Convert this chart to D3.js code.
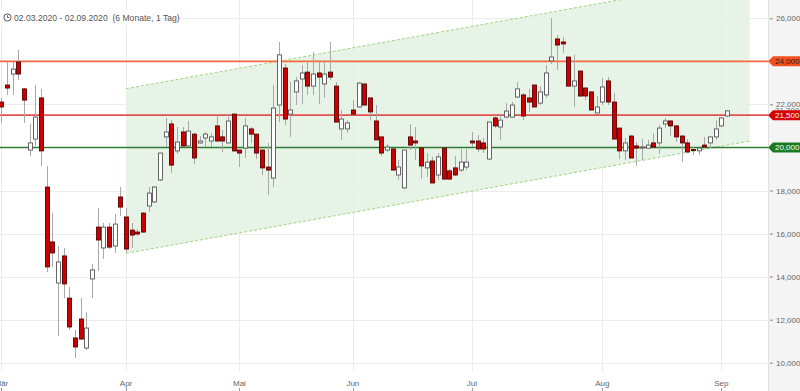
<!DOCTYPE html>
<html><head><meta charset="utf-8">
<script src="https://cdn.jsdelivr.net/npm/d3@7"></script>
<style>
html,body{margin:0;padding:0;background:#fff;}
svg{display:block;font-family:"Liberation Sans",Arial,sans-serif;}
</style></head>
<body><svg id="chart" width="800" height="391"></svg>
<script>
const dates = [
"2020-03-02","2020-03-03","2020-03-04","2020-03-05","2020-03-06","2020-03-09","2020-03-10","2020-03-11","2020-03-12","2020-03-13",
"2020-03-16","2020-03-17","2020-03-18","2020-03-19","2020-03-20","2020-03-23","2020-03-24","2020-03-25","2020-03-26","2020-03-27",
"2020-03-30","2020-03-31",
"2020-04-01","2020-04-02","2020-04-03","2020-04-06","2020-04-07","2020-04-08","2020-04-09","2020-04-14","2020-04-15","2020-04-16",
"2020-04-17","2020-04-20","2020-04-21","2020-04-22","2020-04-23","2020-04-24","2020-04-27","2020-04-28","2020-04-29","2020-04-30",
"2020-05-04","2020-05-05","2020-05-06","2020-05-07","2020-05-08","2020-05-11","2020-05-12","2020-05-13","2020-05-14","2020-05-15",
"2020-05-18","2020-05-19","2020-05-20","2020-05-21","2020-05-22","2020-05-25","2020-05-26","2020-05-27","2020-05-28","2020-05-29",
"2020-06-02","2020-06-03","2020-06-04","2020-06-05","2020-06-08","2020-06-09","2020-06-10","2020-06-11","2020-06-12","2020-06-15",
"2020-06-16","2020-06-17","2020-06-18","2020-06-19","2020-06-22","2020-06-23","2020-06-24","2020-06-25","2020-06-26","2020-06-29",
"2020-06-30",
"2020-07-01","2020-07-02","2020-07-03","2020-07-06","2020-07-07","2020-07-08","2020-07-09","2020-07-10","2020-07-13","2020-07-14",
"2020-07-15","2020-07-16","2020-07-17","2020-07-20","2020-07-21","2020-07-22","2020-07-23","2020-07-24","2020-07-27","2020-07-28",
"2020-07-29","2020-07-30","2020-07-31",
"2020-08-03","2020-08-04","2020-08-05","2020-08-06","2020-08-07","2020-08-10","2020-08-11","2020-08-12","2020-08-13","2020-08-14",
"2020-08-17","2020-08-18","2020-08-19","2020-08-20","2020-08-21","2020-08-24","2020-08-25","2020-08-26","2020-08-27","2020-08-28",
"2020-08-31",
"2020-09-01","2020-09-02"
];
const open = [
22110,22900,23410,23970,22720,19880,20390,22300,18160,15610,
13700,14960,13000,11150,12030,10680,13890,16300,15330,16300,
15420,17700,
16770,16160,16070,16950,17280,17470,18490,20490,21090,19840,
20720,20070,20620,20210,20440,20300,21000,20490,20210,21550,
19880,19970,20860,20620,19880,19090,18580,21970,23690,21550,
22580,23180,23500,22850,23460,22950,23500,22850,20860,20860,
21740,21880,22950,22300,21230,20490,19880,19930,18720,18120,
20490,20300,19970,19050,19370,18720,19970,18910,19050,18950,
19090,
20300,20300,20210,19460,21370,20950,21410,21410,22340,22440,
22300,22900,22060,22440,24020,25040,24900,24200,22850,23550,
22760,22580,21600,
22110,23090,22110,20900,19840,20530,20070,20010,19970,20210,
20210,21090,21230,21000,20530,20210,19900,19840,20110,20210,
20490,
21000,21460
];
const high = [
22300,23970,23970,24530,22760,21090,22900,22720,19140,16950,
15420,15330,13520,11520,13000,12350,14580,17190,16490,16490,
16910,18160,
17190,16490,16210,17000,18160,18210,19740,21370,21270,20950,
20950,21230,20670,20530,20720,20670,21510,20810,21510,21550,
19880,21370,20950,20620,19880,20210,22900,24900,23880,23040,
23270,23830,23970,24430,24060,23970,24900,23040,21740,21270,
22200,23040,22950,22300,21970,20490,20160,19970,19420,19880,
21090,20950,19970,19740,19560,19740,19970,19000,19600,19930,
19930,
20720,20580,20440,21180,21510,21510,22060,22110,23040,22530,
22720,22900,22850,23830,26010,25220,25130,24200,24300,23550,
22810,22580,22390,
23230,23270,22530,20900,20440,20580,20250,20390,20350,20670,
21040,21370,21270,21040,20580,20390,20020,20070,20490,20490,
21270,
21410,21720
];
const low = [
21140,22440,22440,23130,21140,19600,20070,19140,14210,14450,
11240,13000,11520,10220,11050,10590,13000,14260,14820,15280,
15100,16820,
15100,15330,15890,16030,17000,17420,18440,20020,18810,19700,
20020,20020,19230,20160,20020,20020,20250,19790,20210,19790,
19090,19510,20210,19460,18720,17790,18160,21180,21040,20490,
21970,22020,22440,22440,22020,22300,23130,21180,20350,20670,
21550,21830,21970,21270,20350,19600,19790,18950,18490,18070,
19880,19420,18530,18630,18350,18490,18530,18490,18670,18860,
18950,
20020,19790,19740,19420,20900,20350,21370,21410,22300,21270,
21650,21880,21970,22300,23880,23600,24390,22850,21880,22340,
22200,21740,21600,
21970,21970,20390,19460,19420,19510,19140,19420,19970,20020,
19700,20900,20530,20250,19320,19740,19650,19650,19970,19970,
20350,
20950,21410
];
const close = [
21880,22760,23640,23410,22200,20210,21410,19840,14450,15100,
14680,13660,11660,10730,11100,11610,14310,15700,16300,15370,
16440,17230,
15280,15930,15980,16070,17880,18160,19740,20720,19180,20250,
20070,20760,19510,20300,20620,20490,20300,20300,21230,19840,
19740,21000,20620,19740,19050,18950,21830,24300,21320,21740,
23090,23460,22850,23410,23270,23410,23270,21180,21320,21140,
21550,22990,21970,21650,20350,19740,20020,18950,19090,19880,
20110,20210,19140,19320,18350,19560,18530,18530,18720,19320,
19320,
20210,19930,19930,21180,21000,21270,21690,21970,22720,21460,
22110,21880,22580,23460,24200,24760,24810,22850,23090,22390,
22390,21740,21880,
22810,22110,20390,19840,20210,19510,19970,20020,20110,20020,
20900,21230,21000,20490,20210,19790,19860,19970,20020,20490,
20860,
21370,21700
];
const yTicks = [10000,12000,14000,16000,18000,20000,22000,24000,26000];
const monthDates = ["2020-03-02","2020-04-01","2020-05-04","2020-06-02","2020-07-01","2020-08-03","2020-09-01"];
const monthLabels = ["Mär","Apr","Mai","Jun","Jul","Aug","Sep"];
const levelValues = [24000, 21500, 20000];
const channelIdx = [22, 132];
const channelUpper = [22730, 27946];
const channelLower = [15082, 20298];
const headerText = "02.03.2020 - 02.09.2020  (6 Monate, 1 Tag)";

const W = 800, H = 391, plotRight = 768, plotBottom = 372;
const svg = d3.select("#chart");
const n = dates.length;
const step = 5.67;
const x = d3.scaleBand().domain(dates).range([1.3 - step/2, 1.3 - step/2 + n*step]).padding(0);
const cx = d => x(d) + x.bandwidth()/2;
const xi = d3.scaleLinear().domain([0, n-1]).range([cx(dates[0]), cx(dates[n-1])]);
const y = d3.scaleLinear().domain([10000, 26000]).range([362.7, 18.3]);

svg.append("defs").append("clipPath").attr("id","plotclip")
  .append("rect").attr("x",0).attr("y",0).attr("width",plotRight).attr("height",plotBottom);

// right panel
svg.append("rect").attr("x",plotRight).attr("y",0).attr("width",W-plotRight).attr("height",H).attr("fill","#f4f4f4");
svg.append("line").attr("x1",plotRight+0.5).attr("x2",plotRight+0.5).attr("y1",0).attr("y2",H).attr("stroke","#e0e0e0");

const plot = svg.append("g").attr("clip-path","url(#plotclip)");

// grid
plot.selectAll("line.hg").data(yTicks).join("line").attr("class","hg")
  .attr("x1",0).attr("x2",plotRight).attr("y1",d=>Math.round(y(d))+0.5).attr("y2",d=>Math.round(y(d))+0.5)
  .attr("stroke","#ececec");
plot.selectAll("line.vg").data(monthDates).join("line").attr("class","vg")
  .attr("x1",d=>Math.round(cx(d))+0.5).attr("x2",d=>Math.round(cx(d))+0.5).attr("y1",0).attr("y2",plotBottom)
  .attr("stroke","#ececec");

// channel
const xc0 = xi(channelIdx[0]), xc1 = xi(channelIdx[1]);
plot.append("path")
  .attr("d", `M${xc0},${y(channelUpper[0])}L${xc1},${y(channelUpper[1])}L${xc1},${y(channelLower[1])}L${xc0},${y(channelLower[0])}Z`)
  .attr("fill","#e5f2e5").attr("fill-opacity",0.9);
[channelUpper, channelLower].forEach(arr=>{
  plot.append("line").attr("x1",xc0).attr("y1",y(arr[0])).attr("x2",xc1).attr("y2",y(arr[1]))
    .attr("stroke","#9fd67f").attr("stroke-width",1).attr("stroke-dasharray","3,2");
});

// level lines
const levelLine = ["#f26a3c","#e25050","#2e7d32"];
plot.selectAll("line.lvl").data(levelValues).join("line").attr("class","lvl")
  .attr("x1",0).attr("x2",plotRight).attr("y1",d=>y(d)).attr("y2",d=>y(d))
  .attr("stroke",(d,i)=>levelLine[i]).attr("stroke-width",1.6);

// header
svg.append("rect").attr("x",0).attr("y",10).attr("width",156).attr("height",15).attr("fill","#fff");
const clk = svg.append("g").attr("transform","translate(7.5,17.5)");
clk.append("circle").attr("r",3.6).attr("fill","none").attr("stroke","#555").attr("stroke-width",1);
clk.append("path").attr("d","M0,-2.2V0H1.8").attr("fill","none").attr("stroke","#555").attr("stroke-width",0.9);
svg.append("text").attr("x",14).attr("y",20.5).attr("font-size",8.6).attr("fill","#555")
  .style("white-space","pre").text(headerText);

// candles
const idx = d3.range(n);
const cg = plot.append("g");
cg.selectAll("line.wick").data(idx).join("line").attr("class","wick")
  .attr("x1",i=>Math.round(cx(dates[i]))+0.5).attr("x2",i=>Math.round(cx(dates[i]))+0.5)
  .attr("y1",i=>y(high[i])).attr("y2",i=>y(low[i]))
  .attr("stroke","#a8a8a8").attr("stroke-width",1);
const bw = 4;
cg.selectAll("rect.body").data(idx).join("rect").attr("class","body")
  .attr("x",i=>Math.round(cx(dates[i]))+0.5-bw/2)
  .attr("y",i=>y(Math.max(open[i],close[i])))
  .attr("width",bw)
  .attr("height",i=>Math.max(1,Math.abs(y(open[i])-y(close[i]))))
  .attr("fill",i=>close[i]<open[i]?"#cc0000":"#ffffff")
  .attr("stroke",i=>close[i]<open[i]?"#5a0000":"#555")
  .attr("stroke-width",0.9);

// right axis
const ax = svg.append("g").attr("transform",`translate(${plotRight+2},0)`)
  .call(d3.axisRight(y).tickValues(yTicks).tickSize(3).tickPadding(3).tickFormat(d3.format(",")));
ax.select(".domain").remove();
ax.selectAll("line").attr("stroke","#888");
ax.selectAll("text").attr("font-size",8).attr("fill","#666").attr("font-family","Liberation Sans, Arial, sans-serif");

// last price label (partially hidden behind tag, as in reference)
svg.append("text").attr("x",plotRight+7).attr("y",y(close[n-1])).attr("dy","0.32em")
  .attr("font-size",8).attr("fill","#777").text(d3.format(",")(close[n-1]));

// level tags
const tagFill = ["#f4511e","#d50000","#1b7a22"];
const tagText = ["#222","#fff","#fff"];
levelValues.forEach((v,i)=>{
  const yy = y(v);
  svg.append("path").attr("d",`M${plotRight},${yy}L${plotRight+5},${yy-5}L${W},${yy-5}L${W},${yy+5}L${plotRight+5},${yy+5}Z`)
    .attr("fill",tagFill[i]);
  svg.append("text").attr("x",plotRight+7).attr("y",yy).attr("dy","0.33em").attr("font-size",8)
    .attr("fill",tagText[i]).text(d3.format(",")(v));
});

// month axis
const mg = svg.append("g");
mg.selectAll("text").data(monthDates).join("text")
  .attr("x",d=>cx(d)).attr("y",386).attr("text-anchor","middle").attr("font-size",8).attr("fill","#666")
  .text((d,i)=>monthLabels[i]);
mg.selectAll("line").data(monthDates).join("line")
  .attr("x1",d=>Math.round(cx(d))+0.5).attr("x2",d=>Math.round(cx(d))+0.5).attr("y1",388).attr("y2",391)
  .attr("stroke","#999");
</script></body></html>
